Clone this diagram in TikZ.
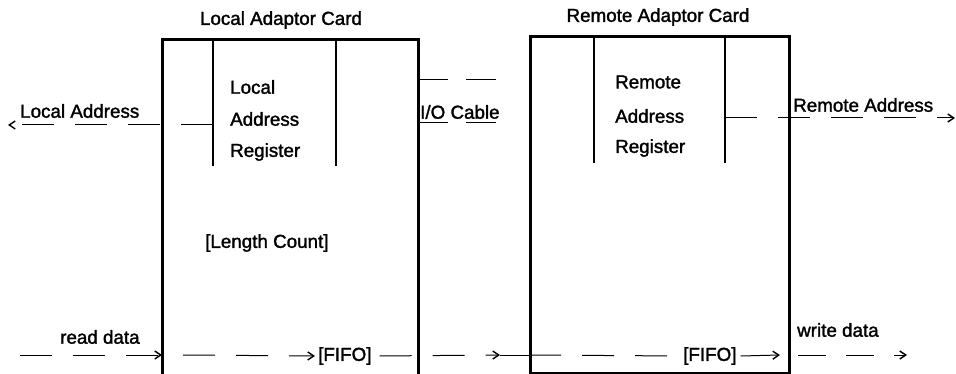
\documentclass[tikz,border=0pt]{standalone}
\usepackage{fontspec}
\setmainfont{Liberation Sans}[FakeBold=1.6]
\usetikzlibrary{arrows.meta}
\begin{document}
\begin{tikzpicture}[x=1pt,y=-1pt,
  lbl/.style={inner sep=0pt,font=\fontsize{18.8}{20}\selectfont,anchor=west},
  boxline/.style={line width=3pt},
  regline/.style={line width=2.6pt},
  dline/.style={line width=1pt,dash pattern=on 32pt off 21pt},
  sline/.style={line width=1pt},
  tip/.style={-{Straight Barb[length=6pt,width=8pt,line width=1.4pt]}}]
\useasboundingbox (0,0) rectangle (956,374);
% boxes
\coordinate (LTL) at (162,40);
\coordinate (LTR) at (418,40);
\coordinate (LBL) at (162,376);
\coordinate (LBR) at (418,376);
\draw[boxline] (LBL) -- (LTL) -- (LTR) -- (LBR);
\node[draw,boxline,minimum width=259pt,minimum height=337pt,anchor=north west,inner sep=0pt] (RB) at (529,35) {};
% register dividers
\coordinate (lr1t) at (213,40); \coordinate (lr1b) at (213,166);
\coordinate (lr2t) at (336,40); \coordinate (lr2b) at (336,166);
\coordinate (rr1t) at (594,35); \coordinate (rr1b) at (594,163);
\coordinate (rr2t) at (725,35); \coordinate (rr2b) at (725,163);
\draw[regline] (lr1t) -- (lr1b);
\draw[regline] (lr2t) -- (lr2b);
\draw[regline] (rr1t) -- (rr1b);
\draw[regline] (rr2t) -- (rr2b);
% titles
\node[lbl,anchor=center] (lt) at (281,20) {Local Adaptor Card};
\node[lbl,anchor=center] (rt) at (658,17) {Remote Adaptor Card};
% register texts
\node[lbl] (la1) at (230,87) {Local};
\node[lbl] (la2) at (230,119) {Address};
\node[lbl] (la3) at (230,152) {Register};
\node[lbl] (ra1) at (615,82) {Remote};
\node[lbl] (ra2) at (615,116) {Address};
\node[lbl] (ra3) at (615,148) {Register};
\node[lbl] (lc) at (205,243) {[Length Count]};
% labels
\node[lbl] (laddr) at (20,111) {Local Address};
\node[lbl] (io) at (420,112) {I/O Cable};
\node[lbl] (raddr) at (793,105) {Remote Address};
\node[lbl] (rd) at (60,337) {read data};
\node[lbl] (wd) at (797,330) {write data};
\node[lbl] (f1) at (318,356) {[FIFO]};
\node[lbl] (f2) at (683,356) {[FIFO]};
% local address
\coordinate (laS) at (213,125);
\coordinate (laE) at (8,125);
\draw[dline,tip] (laS) -- (laE);
% remote address
\coordinate (raS) at (725,118);
\coordinate (raE) at (955,118);
\draw[dline,tip] (raS) -- (raE);
% I/O cable
\coordinate (c1a) at (418,80); \coordinate (c1b) at (508,80);
\coordinate (c2a) at (418,123); \coordinate (c2b) at (508,123);
\draw[dline,dash pattern=on 30pt off 18pt] (c1a) -- (c1b);
\draw[dline,dash pattern=on 30pt off 18pt] (c2a) -- (c2b);
% data path
\coordinate (d0) at (20,355);
\coordinate (d1) at (162,355);
\coordinate (d2) at (183,355);
\coordinate (d3) at (500,355);
\coordinate (d4) at (529,355);
\coordinate (d5) at (780,355);
\coordinate (d6) at (798,355);
\coordinate (d7) at (907,355);
\draw[dline,tip] (d0) -- (d1);
\draw[dline,tip] (d2) -- ([xshift=-3pt]f1.west);
\draw[dline,tip] ([xshift=8pt]f1.east) -- (d3);
\draw[sline] (d3) -- (d4);
\draw[dline] (d4) -- ([xshift=-3pt]f2.west);
\draw[sline,tip] ([xshift=4pt]f2.east) -- (d5);
\draw[dline,tip,dash pattern=on 28pt off 20pt] (d6) -- (d7);
\end{tikzpicture}
\end{document}
